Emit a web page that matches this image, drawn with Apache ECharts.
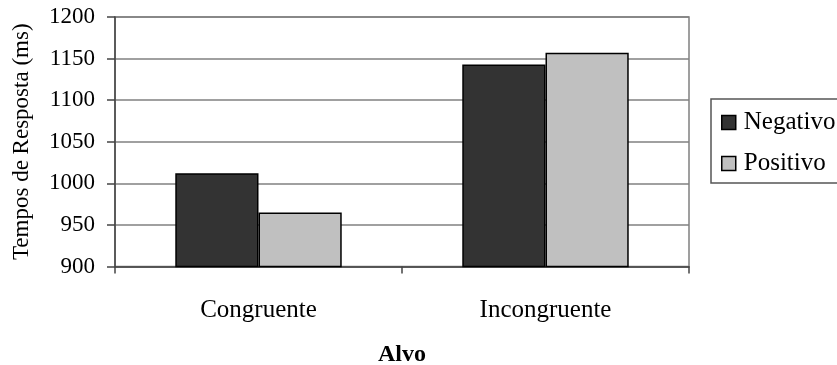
<!DOCTYPE html>
<html>
<head>
<meta charset="utf-8">
<script src="https://cdn.jsdelivr.net/npm/echarts@6/dist/echarts.min.js"></script>
<style>
html,body{margin:0;padding:0;background:#fff;}
#chart{width:837px;height:365px;}
</style>
</head>
<body>
<div id="chart"></div>
<script>
const categories = ['Congruente', 'Incongruente'];
const seriesNames = ['Negativo', 'Positivo'];
const negativo = [1012, 1143];
const positivo = [965, 1157];
const yTicks = [900, 950, 1000, 1050, 1100, 1150, 1200];

const FONT = '"Liberation Serif", "Times New Roman", serif';
const chart = echarts.init(document.getElementById('chart'), null, {renderer: 'canvas'});
chart.setOption({
  animation: false,
  backgroundColor: '#ffffff',
  textStyle: {fontFamily: FONT},
  grid: {left: 115, right: 148, top: 17, bottom: 98.5, show: true, borderColor: '#808080', borderWidth: 1.5,
         containLabel: false, outerBoundsMode: 'none'},
  legend: {
    orient: 'vertical', left: 711, top: 99,
    data: seriesNames,
    icon: 'rect', itemWidth: 14, itemHeight: 14, itemGap: 16,
    padding: [11, 40, 7, 10],
    borderColor: '#555555', borderWidth: 1.5,
    itemStyle: {borderColor: '#000', borderWidth: 1.5},
    textStyle: {fontFamily: FONT, fontSize: 25, color: '#000', lineHeight: 22, padding: [0, 0, 0, 3]}
  },
  xAxis: {
    type: 'category', data: categories,
    name: 'Alvo', nameLocation: 'middle', nameGap: 76,
    nameTextStyle: {fontFamily: FONT, fontSize: 24, fontWeight: 'bold', color: '#000'},
    axisLine: {lineStyle: {color: '#444', width: 1.5}},
    axisTick: {show: true, length: 7, lineStyle: {color: '#444', width: 1.5}},
    axisLabel: {fontFamily: FONT, fontSize: 25, color: '#000', margin: 31}
  },
  yAxis: {
    type: 'value', min: 900, max: 1200, interval: 50,
    name: 'Tempos de Resposta (ms)', nameLocation: 'middle', nameGap: 82, nameRotate: 90,
    nameTextStyle: {fontFamily: FONT, fontSize: 23, color: '#000'},
    axisLine: {show: true, lineStyle: {color: '#444', width: 1.5}},
    axisTick: {show: true, length: 8, lineStyle: {color: '#444', width: 1.5}},
    axisLabel: {fontFamily: FONT, fontSize: 23, color: '#000', margin: 20,
      formatter: v => yTicks.includes(v) ? String(v) : ''},
    splitLine: {show: true, lineStyle: {color: '#808080', width: 1.5}}
  },
  series: [
    {name: seriesNames[0], type: 'bar', data: negativo, barGap: '0%', barCategoryGap: '42%',
     itemStyle: {color: '#333333', borderColor: '#000', borderWidth: 1.5}},
    {name: seriesNames[1], type: 'bar', data: positivo, barGap: '0%', barCategoryGap: '42%',
     itemStyle: {color: '#c0c0c0', borderColor: '#000', borderWidth: 1.5}}
  ]
});
</script>
</body>
</html>
